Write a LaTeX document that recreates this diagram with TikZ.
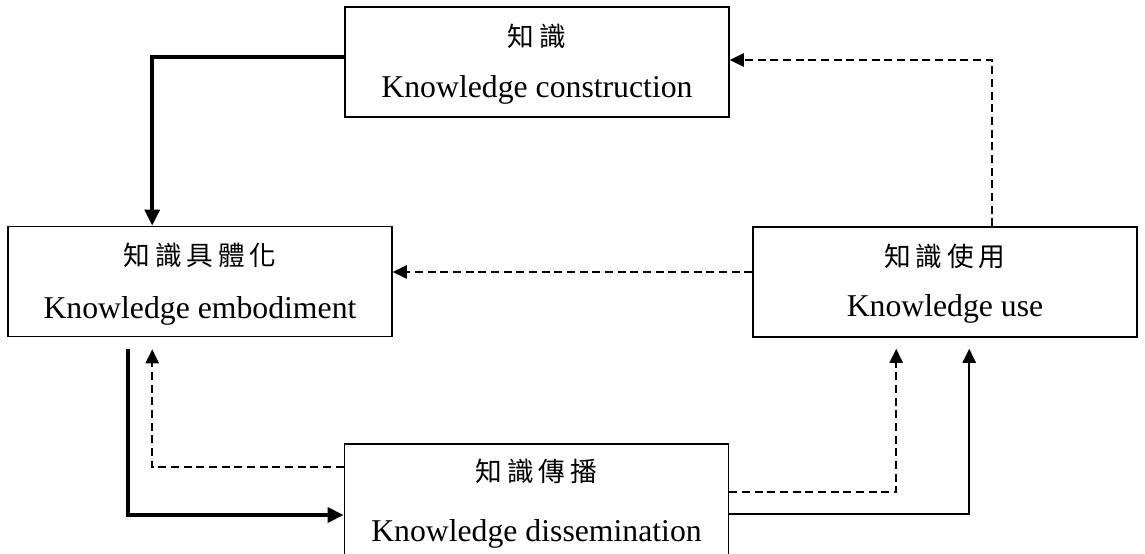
\documentclass[tikz,border=0pt]{standalone}
\usepackage{fontspec}
\setmainfont{Liberation Serif}
\newfontfamily\cjk[LetterSpace=18]{Noto Sans CJK TC}
\usetikzlibrary{arrows.meta,calc}

\tikzset{
  box/.style={draw, line width=1.2pt, minimum width=288pt, minimum height=82.5pt, inner sep=0pt},
  zh/.style={font=\cjk\fontsize{20}{24}\selectfont, anchor=center, inner sep=0pt},
  en/.style={font=\fontsize{23.8}{28}\selectfont, anchor=base, inner sep=0pt},
  flow/.style={line width=3.2pt, -{Triangle[length=12pt,width=11pt]}},
  thinflow/.style={line width=1.2pt, -{Triangle[length=10.5pt,width=10pt]}},
  backflow/.style={line width=1.2pt, dash pattern=on 6pt off 3.5pt, -{Triangle[length=10.5pt,width=10pt]}}
}

\begin{document}
\begin{tikzpicture}[x=0.75pt, y=-0.75pt]
  \clip (0,0) rectangle (1145,553);
  \useasboundingbox (0,0) rectangle (1145,553);

  % the four stages
  \node[box] (construction) at (537,62) {};
  \node[box] (embodiment) at (200,281.5) {};
  \node[box] (use) at (945,282) {};
  \node[box, minimum height=105pt] (dissemination) at (536.5,514) {};

  % bilingual labels
  \node[zh] (constructionzh) at ($(construction.north)+(0,30)$) {知識};
  \node[en] (constructionen) at ($(construction.north)+(0,91)$) {Knowledge construction};
  \node[zh] (embodimentzh) at ($(embodiment.north)+(0,30)$) {知識具體化};
  \node[en] (embodimenten) at ($(embodiment.north)+(0,93)$) {Knowledge embodiment};
  \node[zh] (usezh) at ($(use.north)+(0,30)$) {知識使用};
  \node[en] (useen) at ($(use.north)+(0,90)$) {Knowledge use};
  \node[zh] (disseminationzh) at ($(dissemination.north)+(0,28)$) {知識傳播};
  \node[en] (disseminationen) at ($(dissemination.north)+(0,98)$) {Knowledge dissemination};

  % free ends below the boxes
  \coordinate (embout) at ($(embodiment.south west)+(121,12)$);
  \coordinate (embin) at ($(embodiment.south west)+(145,12)$);
  \coordinate (usein1) at ($(use.south west)+(144,11)$);
  \coordinate (usein2) at ($(use.south west)+(217,11)$);

  % main cycle (thick)
  \draw[flow] ($(construction.west)+(0,-5)$) -| ($(embodiment.north west)+(145,0)$);
  \draw[flow] (embout) |- ($(dissemination.west)+(0,1)$);
  \draw[thinflow] ($(dissemination.east)+(0,0)$) -| (usein2);

  % feedback paths (dashed)
  \draw[backflow] ($(use.north west)+(240,0)$) |- ($(construction.east)+(0,-2)$);
  \draw[backflow] ($(use.west)+(0,-10)$) -- ($(embodiment.east)+(0,-9.5)$);
  \draw[backflow] ($(dissemination.west)+(0,-47)$) -| (embin);
  \draw[backflow] ($(dissemination.east)+(0,-22)$) -| (usein1);
\end{tikzpicture}
\end{document}
